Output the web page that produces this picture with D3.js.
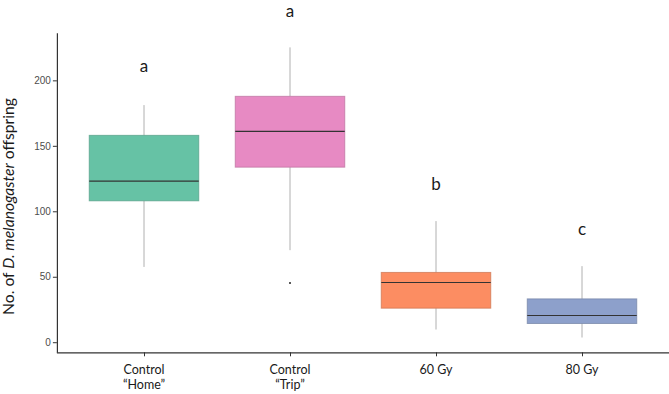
<!DOCTYPE html>
<html>
<head>
<meta charset="utf-8">
<script src="https://cdn.jsdelivr.net/npm/d3@7"></script>
<style>
  body { margin: 0; background: #fff; }
  svg { display: block; }
  .lbl { font-family: Lato, "Open Sans", sans-serif; fill: #1a1a1a; }
</style>
</head>
<body>
<div id="chart"></div>
<script>
// groups and box summaries
var groups = ["Control \u201cHome\u201d", "Control \u201cTrip\u201d", "60 Gy", "80 Gy"];
var groupLines = [["Control", "\u201cHome\u201d"], ["Control", "\u201cTrip\u201d"], ["60 Gy"], ["80 Gy"]];
var whiskerLow = [57.5, 70.3, 9.7, 3.6];
var q1 = [108.0, 133.7, 26.0, 14.3];
var median = [123.0, 161.0, 45.6, 20.4];
var q3 = [158.0, 187.8, 53.3, 33.1];
var whiskerHigh = [181.1, 225.2, 92.5, 58.1];
var outliers = [[], [45.3], [], []];
var letters = ["a", "a", "b", "c"];
var letterY = [210.5, 252, 120, 86];
var colors = ["#66c2a5", "#e78ac3", "#fc8d62", "#8da0cb"];
var yTicks = [0, 50, 100, 150, 200];

var W = 669, H = 394;
var svg = d3.select("#chart").append("svg").attr("width", W).attr("height", H);

var x = d3.scalePoint().domain(groups).range([56.4, 669.6]).padding(0.6);
var y = d3.scaleLinear().domain([-7.7, 236.4]).range([352.3, 32.7]);
var boxW = x.step() * 0.75;

var data = groups.map(function(g, i) {
  return { g: g, lo: whiskerLow[i], q1: q1[i], med: median[i], q3: q3[i], hi: whiskerHigh[i],
           out: outliers[i], col: colors[i], letter: letters[i], ly: letterY[i] };
});

var boxes = svg.append("g").selectAll("g").data(data).enter().append("g");

// whiskers
boxes.append("line")
  .attr("x1", function(d) { return x(d.g); }).attr("x2", function(d) { return x(d.g); })
  .attr("y1", function(d) { return y(d.q3); }).attr("y2", function(d) { return y(d.hi); })
  .attr("stroke", "#b0b0b0").attr("stroke-width", 1);
boxes.append("line")
  .attr("x1", function(d) { return x(d.g); }).attr("x2", function(d) { return x(d.g); })
  .attr("y1", function(d) { return y(d.q1); }).attr("y2", function(d) { return y(d.lo); })
  .attr("stroke", "#b0b0b0").attr("stroke-width", 1);

boxes.append("rect")
  .attr("x", function(d) { return x(d.g) - boxW / 2; })
  .attr("width", boxW)
  .attr("y", function(d) { return y(d.q3); })
  .attr("height", function(d) { return y(d.q1) - y(d.q3); })
  .attr("fill", function(d) { return d.col; })
  .attr("stroke", function(d) { return d3.color(d.col).darker(0.6); })
  .attr("stroke-opacity", 0.7)
  .attr("stroke-width", 1);

boxes.append("line")
  .attr("x1", function(d) { return x(d.g) - boxW / 2; })
  .attr("x2", function(d) { return x(d.g) + boxW / 2; })
  .attr("y1", function(d) { return y(d.med); }).attr("y2", function(d) { return y(d.med); })
  .attr("stroke", "#333").attr("stroke-width", 1.2);

boxes.selectAll("circle").data(function(d) { return d.out.map(function(v) { return { g: d.g, v: v }; }); })
  .enter().append("circle")
  .attr("cx", function(d) { return x(d.g); })
  .attr("cy", function(d) { return y(d.v); })
  .attr("r", 1).attr("fill", "#222");

// significance letters
boxes.append("text").attr("class", "lbl")
  .attr("x", function(d) { return x(d.g); })
  .attr("y", function(d) { return y(d.ly); })
  .attr("dy", "0.3em")
  .attr("text-anchor", "middle")
  .style("font-size", "17px")
  .text(function(d) { return d.letter; });

// axes
var yAxis = svg.append("g").attr("transform", "translate(56.9,0)")
  .call(d3.axisLeft(y).tickValues(yTicks).tickSize(4).tickPadding(2).tickSizeOuter(0));
yAxis.select(".domain").attr("stroke", "#333").attr("stroke-width", 1.2);
yAxis.selectAll(".tick line").attr("stroke", "#333");
yAxis.selectAll(".tick text").attr("fill", "#4d4d4d")
  .style("font-family", "'Liberation Sans', Arial, sans-serif").style("font-size", "10px");

var xAxis = svg.append("g").attr("transform", "translate(0,352.3)")
  .call(d3.axisBottom(x).tickSize(4).tickSizeOuter(0).tickFormat(""));
xAxis.select(".domain").attr("stroke", "#333").attr("stroke-width", 1.2);
xAxis.selectAll(".tick line").attr("stroke", "#333");

var xl = svg.append("g").selectAll("text").data(groups).enter().append("text")
  .attr("class", "lbl")
  .attr("text-anchor", "middle")
  .style("font-size", "12.5px")
  .attr("x", function(d) { return x(d); })
  .attr("y", 374);
xl.each(function(d, i) {
  var t = d3.select(this);
  groupLines[i].forEach(function(s, j) {
    t.append("tspan").attr("x", x(d)).attr("dy", j ? 15 : 0).text(s);
  });
});

// y title, sized to span the same length as the original
var yt = svg.append("text").attr("class", "lbl")
  .attr("transform", "translate(13.5,206.5) rotate(-90)")
  .attr("text-anchor", "middle")
  .style("font-size", "14px");
yt.append("tspan").text("No. of ");
yt.append("tspan").style("font-style", "italic").text("D. melanogaster");
yt.append("tspan").text(" offspring");
var len = yt.node().getComputedTextLength();
yt.style("font-size", (14 * 217 / len) + "px");
</script>
</body>
</html>
